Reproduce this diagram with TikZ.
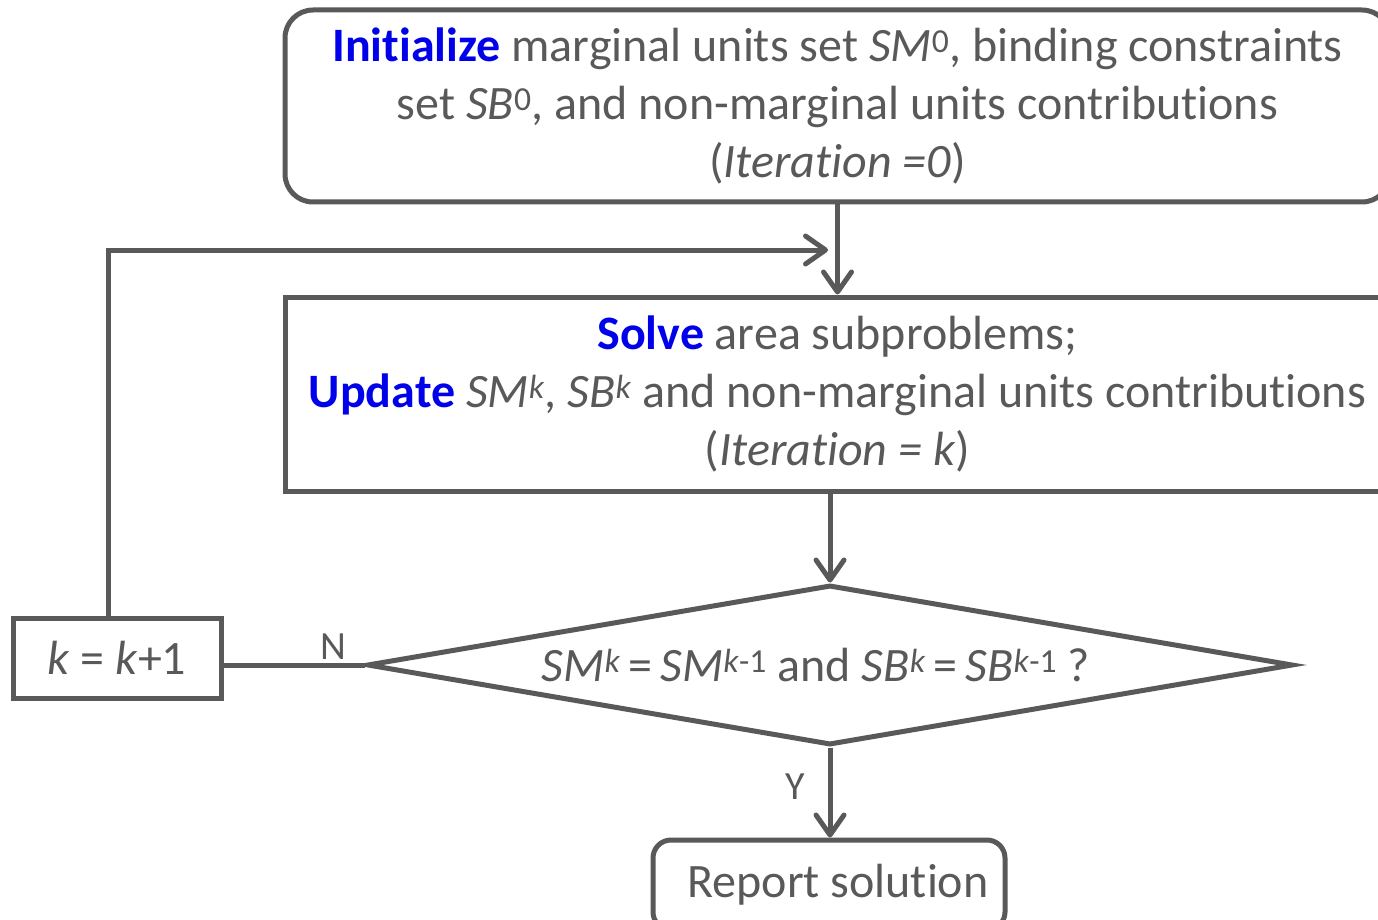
\documentclass[tikz,border=0pt]{standalone}
\usepackage{fontspec}
\setmainfont[Ligatures=NoCommon]{Carlito}
\usetikzlibrary{arrows.meta,shapes.geometric}
\definecolor{lg}{HTML}{595959}
\definecolor{kwblue}{RGB}{0,0,235}
\newcommand{\kwd}[1]{\textcolor{kwblue}{\textbf{#1}}}
\begin{document}
\begin{tikzpicture}[x=1pt,y=-1pt,
  every node/.style={text=lg, font=\fontsize{48}{58}\selectfont},
  box/.style={draw=lg, line width=5pt, align=center, inner sep=0pt},
  rbox/.style={box, rounded corners=28pt},
  arr/.style={draw=lg, line width=5pt, -{Straight Barb[length=20pt,width=28pt,line cap=round,line join=round]}},
  conn/.style={draw=lg, line width=5pt},
  lbl/.style={font=\fontsize{40}{48}\selectfont}
]
\useasboundingbox (0,0) rectangle (1378,920);
\clip (0,0) rectangle (1378,920);

\node[rbox, minimum width=1105pt, minimum height=192pt] (top) at (837.5,106)
  {\kwd{Initialize} marginal units set \textit{SM}\textsuperscript{0}, binding constraints\\
   set \textit{SB}\textsuperscript{0}, and non-marginal units contributions\\
   (\textit{Iteration =0})};

\node[box, minimum width=1105pt, minimum height=194pt] (solve) at (837.5,394)
  {\kwd{Solve} area subproblems;\\
   \kwd{Update} \textit{SM}\textsuperscript{\textit{k}}, \textit{SB}\textsuperscript{\textit{k}} and non-marginal units contributions\\
   (\textit{Iteration = k})};

\node[draw=lg, line width=5pt, shape=diamond, inner sep=0pt, minimum width=926pt, minimum height=160pt] (dia) at (830,665) {};
\node (dtext) at (816,665)
  {\textit{SM}\textsuperscript{\textit{k}}\,=\,\textit{SM}\textsuperscript{\textit{k}-1} and \textit{SB}\textsuperscript{\textit{k}}\,=\,\textit{SB}\textsuperscript{\textit{k}-1} ?};

\node[box, minimum width=208pt, minimum height=80pt] (kbox) at (117,658)
  {\textit{k} = \textit{k}+1};

\node[rbox, rounded corners=18pt, minimum width=352pt, minimum height=90pt] (report) at (829,885)
  {\hspace*{18pt}Report solution};

\coordinate (loopcorner) at (108,250);
\coordinate (loopend) at (828,250);

\draw[arr] (top.south) -- (solve.north);
\draw[arr] (solve.south -| dia.north) -- (dia.north);
\draw[arr] (dia.south) -- (dia.south |- report.north);
\draw[conn] (dia.west) -- node[pos=0.22, above, lbl, inner sep=3pt] (nlab) {N} (dia.west -| kbox.east);
\draw[arr] (kbox.north -| loopcorner) -- (loopcorner) -- (loopend);
\node[lbl] (ylab) at (795,787) {Y};
\end{tikzpicture}
\end{document}
